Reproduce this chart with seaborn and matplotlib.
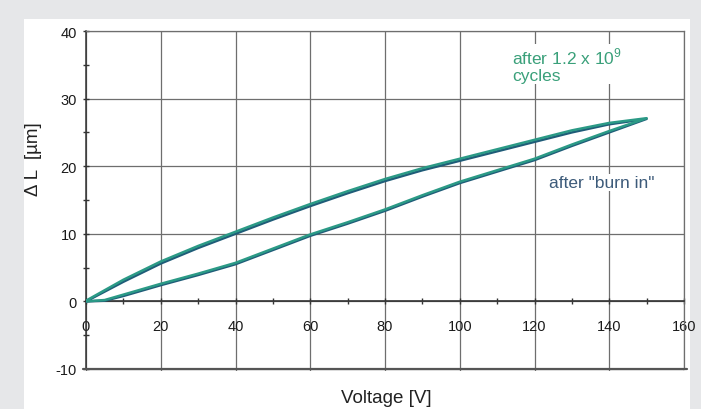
import matplotlib
matplotlib.use("Agg")
import matplotlib.pyplot as plt
import seaborn as sns
import pandas as pd
from matplotlib.patches import Rectangle
from matplotlib.ticker import MultipleLocator

sns.set_style("white")
plt.rcParams['font.family'] = ['Liberation Sans', 'DejaVu Sans']
plt.rcParams['axes.unicode_minus'] = False
plt.rcParams['mathtext.fontset'] = 'custom'
plt.rcParams['mathtext.rm'] = 'Liberation Sans'

# hysteresis loops: rising branch then falling branch
v_rise = [0, 5, 10, 20, 30, 40, 50, 60, 70, 80, 90, 100, 110, 120, 130, 140, 150]
v_fall = [150, 140, 130, 120, 110, 100, 90, 80, 70, 60, 50, 40, 30, 20, 10, 0]

burn_rise = [0, 0.1, 0.8, 2.4, 3.9, 5.5, 7.6, 9.7, 11.5, 13.4, 15.5, 17.5, 19.2, 20.9, 23.0, 25.0, 27.0]
burn_fall = [27.0, 26.2, 25.0, 23.6, 22.2, 20.8, 19.4, 17.8, 16.0, 14.1, 12.1, 10.0, 7.9, 5.6, 2.9, 0]

cyc_rise = [0, 0.2, 1.0, 2.6, 4.1, 5.7, 7.8, 9.9, 11.7, 13.6, 15.7, 17.7, 19.4, 21.1, 23.2, 25.2, 27.1]
cyc_fall = [27.1, 26.4, 25.3, 23.9, 22.5, 21.1, 19.7, 18.1, 16.3, 14.4, 12.4, 10.3, 8.2, 5.9, 3.2, 0.1]

series = ['burn in', 'cycles']
colors = {'burn in': '#1f5c78', 'cycles': '#2b9a86'}

rows = []
for name, rise, fall in [('burn in', burn_rise, burn_fall), ('cycles', cyc_rise, cyc_fall)]:
    vs = v_rise + v_fall
    ls = rise + fall
    for i, (v, l) in enumerate(zip(vs, ls)):
        rows.append({'series': name, 'order': i, 'voltage': v, 'dL': l})
df = pd.DataFrame(rows)

fig = plt.figure(figsize=(7.01, 4.10), dpi=100, facecolor='#e6e7e9')
fig.add_artist(Rectangle((24 / 701, 0), 666 / 701, 1 - 20 / 410,
                         transform=fig.transFigure, facecolor='white',
                         edgecolor='none', zorder=-10))
ax = fig.add_axes([86 / 701, 1 - 372 / 410, 598 / 701, 340 / 410])
ax.set_facecolor('none')

for name in series:
    sub = df[df['series'] == name]
    sns.lineplot(data=sub, x='voltage', y='dL', sort=False, estimator=None,
                 color=colors[name], linewidth=1.8, ax=ax, zorder=3)

ax.set_xlim(0, 160)
ax.set_ylim(-10.3, 40)
ax.xaxis.set_major_locator(MultipleLocator(20))
ax.xaxis.set_minor_locator(MultipleLocator(10))
ax.yaxis.set_major_locator(MultipleLocator(10))
ax.yaxis.set_minor_locator(MultipleLocator(5))
ax.grid(True, which='major', color='#6e6e6e', linewidth=0.9)

for s in ['top', 'right']:
    ax.spines[s].set_color('#6e6e6e')
    ax.spines[s].set_linewidth(0.9)
ax.spines['left'].set_color('#333333')
ax.spines['left'].set_linewidth(1.1)
ax.spines['left'].set_bounds(-10, 40)
ax.spines['right'].set_bounds(-10, 40)
ax.spines['bottom'].set_position(('data', 0))
ax.spines['bottom'].set_color('#333333')
ax.spines['bottom'].set_linewidth(1.2)
# bottom frame line of the plot box
ax.axhline(-10, xmin=-0.005, xmax=1.005, color='#555555', linewidth=1.6,
           zorder=6, clip_on=False)

ax.tick_params(axis='both', which='both', direction='inout', color='#333333',
               bottom=True, left=True, labelsize=10.5, labelcolor='#1a1a1a')
ax.tick_params(axis='both', which='major', length=5, width=1)
ax.tick_params(axis='both', which='minor', length=4, width=1)
ax.tick_params(axis='x', pad=10)
ax.tick_params(axis='y', pad=4)

ax.set_xlabel('Voltage [V]', fontsize=13.5, color='#222222')
ax.xaxis.set_label_coords(0.503, -0.052)
ax.set_ylabel('Δ L  [µm]', fontsize=13.5, color='#222222')
ax.yaxis.set_label_coords(-0.074, 0.626)

ax.text(114, 37.8, 'after 1.2 x 10$^9$\ncycles', fontsize=12.5, color='#3aa07a',
        ha='left', va='top', linespacing=1.1, zorder=4,
        bbox=dict(facecolor='white', edgecolor='none', pad=1))
ax.text(124, 17.6, 'after "burn in"', fontsize=12.5, color='#3d5b7a',
        ha='left', va='center', zorder=4,
        bbox=dict(facecolor='white', edgecolor='none', pad=1))

fig.savefig('out.png', dpi=100, facecolor=fig.get_facecolor())
